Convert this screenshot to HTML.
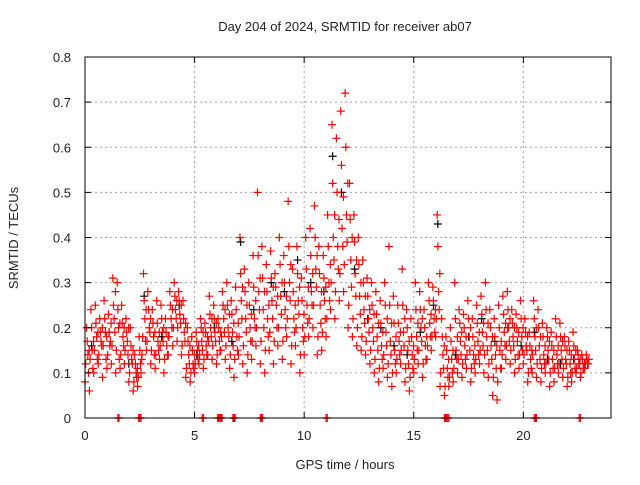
<!DOCTYPE html>
<html><head><meta charset="utf-8"><style>
body{margin:0;background:#fff}
svg text{font-family:"Liberation Sans",sans-serif;font-size:13px;fill:#222}
</style></head><body>
<svg id="chart" width="640" height="480" viewBox="0 0 640 480">
<rect width="640" height="480" fill="#fff"/>
<text x="345" y="31" text-anchor="middle">Day 204 of 2024, SRMTID for receiver ab07</text>
<text transform="translate(18,238) rotate(-90)" text-anchor="middle">SRMTID / TECUs</text>
<text x="345" y="469" text-anchor="middle">GPS time / hours</text>
<g id="grid"></g>
<g id="black"></g>
<g id="red"></g>
<g id="axes"></g>
</svg>
<script>
const xTicks=[0,5,10,15,20];
const yTicks=[0,0.1,0.2,0.3,0.4,0.5,0.6,0.7,0.8];
const yTickLabels=["0","0.1","0.2","0.3","0.4","0.5","0.6","0.7","0.8"];
// rows: [time, low, mid, high]
const redRows=[
[0.0,.08,.14,.20],[0.2,.06,.15,.24],[0.4,.10,.18,.25],[0.6,.12,.17,.22],[0.8,.09,.19,.26],
[1.0,.11,.16,.23],[1.2,.12,.22,.31],[1.4,.10,.20,.30],[1.6,.11,.18,.25],[1.8,.12,.17,.22],
[2.0,.08,.13,.20],[2.2,.06,.10,.14],[2.4,.07,.12,.18],[2.6,.14,.22,.32],[2.8,.15,.20,.28],
[3.0,.12,.18,.24],[3.2,.11,.17,.26],[3.4,.13,.19,.25],[3.6,.10,.16,.22],[3.8,.14,.22,.28],
[4.0,.16,.24,.30],[4.2,.17,.23,.28],[4.4,.14,.19,.26],[4.6,.09,.14,.20],[4.8,.08,.12,.18],
[5.0,.10,.15,.19],[5.2,.12,.17,.22],[5.4,.11,.16,.21],[5.6,.14,.20,.27],[5.8,.13,.19,.25],
[6.0,.12,.17,.22],[6.2,.15,.22,.28],[6.4,.13,.20,.30],[6.6,.11,.19,.26],[6.8,.09,.18,.29],
[7.0,.14,.26,.40],[7.2,.12,.22,.33],[7.4,.10,.20,.30],[7.6,.13,.22,.36],[7.8,.16,.28,.50],
[8.0,.12,.24,.38],[8.2,.10,.22,.34],[8.4,.15,.26,.37],[8.6,.12,.25,.32],[8.8,.16,.27,.40],
[9.0,.13,.24,.36],[9.2,.18,.30,.48],[9.4,.12,.22,.33],[9.6,.16,.26,.38],[9.8,.10,.20,.31],
[10.0,.14,.25,.40],[10.2,.18,.28,.42],[10.4,.20,.33,.47],[10.6,.14,.25,.38],[10.8,.15,.26,.36],
[11.0,.18,.30,.45],[11.2,.24,.40,.65],[11.4,.22,.38,.62],[11.6,.26,.42,.68],[11.8,.28,.45,.72],
[12.0,.20,.35,.52],[12.2,.18,.32,.45],[12.4,.16,.27,.40],[12.6,.15,.24,.35],[12.8,.14,.22,.31],
[13.0,.12,.20,.30],[13.2,.10,.18,.28],[13.4,.08,.16,.26],[13.6,.11,.19,.30],[13.8,.09,.17,.38],
[14.0,.07,.15,.27],[14.2,.10,.17,.25],[14.4,.12,.19,.33],[14.6,.08,.15,.24],[14.8,.06,.14,.22],
[15.0,.10,.18,.30],[15.2,.12,.20,.28],[15.4,.09,.16,.24],[15.6,.13,.21,.30],[15.8,.15,.22,.29],
[16.0,.18,.28,.45],[16.2,.07,.14,.22],[16.4,.05,.11,.18],[16.6,.07,.13,.20],[16.8,.08,.15,.30],
[17.0,.10,.17,.24],[17.2,.09,.16,.23],[17.4,.11,.18,.26],[17.6,.08,.14,.22],[17.8,.10,.17,.25],
[18.0,.12,.19,.27],[18.2,.10,.18,.30],[18.4,.09,.16,.24],[18.6,.05,.14,.22],[18.8,.04,.15,.25],
[19.0,.11,.19,.27],[19.2,.13,.20,.28],[19.4,.12,.18,.24],[19.6,.10,.17,.23],[19.8,.11,.18,.26],
[20.0,.12,.16,.22],[20.2,.08,.13,.19],[20.4,.10,.18,.26],[20.6,.09,.16,.24],[20.8,.08,.14,.21],
[21.0,.10,.15,.20],[21.2,.07,.13,.19],[21.4,.08,.14,.22],[21.6,.10,.15,.21],[21.8,.09,.13,.18],
[22.0,.07,.12,.17],[22.2,.08,.13,.19],[22.4,.10,.12,.15],[22.6,.09,.11,.14],[22.8,.11,.12,.14]
];
// extra rows: [time, v1, v2, v3, v4]
const redExtra=[
[0.0,.12,.17,.10,.15],[0.2,.13,.20,.11,.17],[0.4,.15,.21,.13,.19],[0.6,.14,.19,.16,.20],[0.8,.16,.22,.13,.18],
[1.0,.14,.19,.17,.21],[1.2,.16,.25,.19,.28],[1.4,.15,.24,.13,.21],[1.6,.14,.21,.16,.20],[1.8,.15,.19,.14,.20],
[2.0,.10,.16,.12,.15],[2.2,.08,.12,.09,.11],[2.4,.09,.15,.10,.13],[2.6,.18,.26,.17,.24],[2.8,.17,.24,.19,.22],
[3.0,.15,.21,.14,.19],[3.2,.14,.21,.15,.19],[3.4,.16,.22,.17,.20],[3.6,.13,.19,.14,.18],[3.8,.18,.25,.20,.24],
[4.0,.20,.27,.22,.26],[4.2,.20,.26,.21,.25],[4.4,.16,.22,.17,.21],[4.6,.11,.17,.12,.16],[4.8,.10,.15,.11,.14],
[5.0,.12,.17,.13,.16],[5.2,.14,.20,.15,.19],[5.4,.13,.19,.14,.18],[5.6,.17,.23,.18,.22],[5.8,.16,.22,.17,.21],
[6.0,.14,.20,.15,.19],[6.2,.18,.25,.19,.24],[6.4,.16,.25,.18,.23],[6.6,.14,.23,.16,.21],[6.8,.13,.24,.15,.21],
[7.0,.18,.32,.22,.29],[7.2,.16,.28,.19,.25],[7.4,.14,.25,.17,.23],[7.6,.17,.29,.20,.26],[7.8,.20,.36,.24,.31],
[8.0,.17,.31,.20,.28],[8.2,.15,.28,.18,.25],[8.4,.19,.31,.22,.29],[8.6,.17,.29,.20,.27],[8.8,.20,.34,.23,.30],
[9.0,.17,.30,.20,.27],[9.2,.22,.38,.26,.34],[9.4,.16,.28,.19,.25],[9.6,.20,.32,.23,.29],[9.8,.14,.26,.17,.23],
[10.0,.18,.33,.21,.29],[10.2,.22,.36,.25,.32],[10.4,.25,.40,.29,.36],[10.6,.18,.32,.21,.28],[10.8,.19,.31,.22,.29],
[11.0,.22,.38,.26,.34],[11.2,.30,.52,.35,.45],[11.4,.28,.50,.33,.44],[11.6,.32,.56,.38,.49],[11.8,.34,.60,.39,.52],
[12.0,.25,.44,.29,.40],[12.2,.22,.39,.27,.35],[12.4,.20,.34,.23,.30],[12.6,.18,.30,.21,.27],[12.8,.17,.27,.19,.24],
[13.0,.15,.25,.17,.23],[13.2,.13,.23,.15,.21],[13.4,.11,.21,.13,.19],[13.6,.14,.25,.16,.22],[13.8,.12,.25,.14,.21],
[14.0,.10,.21,.12,.18],[14.2,.13,.21,.14,.19],[14.4,.15,.25,.16,.22],[14.6,.11,.20,.12,.17],[14.8,.09,.18,.11,.16],
[15.0,.13,.24,.15,.21],[15.2,.15,.24,.17,.22],[15.4,.12,.20,.13,.18],[15.6,.16,.26,.18,.23],[15.8,.18,.26,.19,.24],
[16.0,.22,.38,.24,.32],[16.2,.10,.18,.11,.16],[16.4,.07,.15,.09,.13],[16.6,.09,.17,.10,.15],[16.8,.11,.22,.13,.18],
[17.0,.13,.21,.14,.19],[17.2,.12,.20,.13,.18],[17.4,.14,.22,.15,.20],[17.6,.11,.18,.12,.16],[17.8,.13,.21,.14,.19],
[18.0,.15,.23,.16,.21],[18.2,.14,.24,.15,.21],[18.4,.12,.20,.13,.18],[18.6,.09,.18,.11,.16],[18.8,.08,.20,.11,.17],
[19.0,.14,.23,.16,.21],[19.2,.16,.24,.17,.22],[19.4,.15,.21,.16,.20],[19.6,.13,.20,.14,.19],[19.8,.14,.22,.15,.20],
[20.0,.14,.19,.15,.18],[20.2,.10,.16,.11,.15],[20.4,.14,.22,.15,.20],[20.6,.12,.20,.13,.18],[20.8,.11,.18,.12,.16],
[21.0,.12,.18,.13,.17],[21.2,.10,.16,.11,.15],[21.4,.11,.18,.12,.16],[21.6,.12,.18,.13,.17],[21.8,.11,.16,.12,.15],
[22.0,.09,.15,.10,.14],[22.2,.10,.16,.11,.15],[22.4,.11,.14,.12,.13],[22.6,.10,.13,.11,.12],[22.8,.12,.13,.12,.13]
];
const redZeroTimes=[1.5,1.55,2.45,2.5,2.55,5.35,5.4,6.05,6.1,6.15,6.2,6.25,6.75,6.8,6.85,8.0,8.05,8.1,11.0,11.05,16.4,16.45,16.5,16.55,16.6,20.5,20.55,20.6,22.55,22.6];
const blackTimes=[0.3,1.1,2.0,2.7,3.5,4.3,5.1,5.9,6.7,7.1,7.7,8.5,9.1,9.7,10.3,10.9,11.3,11.7,12.3,12.9,13.5,14.1,14.7,15.3,15.9,16.1,16.9,17.5,18.1,18.7,19.3,19.9,20.5,21.1,21.7,22.3];
const blackVals=[.16,.19,.12,.27,.18,.25,.14,.2,.17,.39,.24,.3,.28,.35,.3,.28,.58,.5,.33,.22,.2,.16,.14,.19,.25,.43,.14,.18,.22,.17,.2,.16,.19,.13,.12,.13];

const X0=85,X1=611,Y0=418,Y1=57;
const xs=t=>X0+t*(X1-X0)/24;
const ys=v=>Y0-v*(Y0-Y1)/0.8;
const NS="http://www.w3.org/2000/svg";
function mk(tag,attrs,parent){const e=document.createElementNS(NS,tag);for(const k in attrs)e.setAttribute(k,attrs[k]);parent.appendChild(e);return e;}
const grid=document.getElementById('grid'),axes=document.getElementById('axes');
yTicks.forEach((v,i)=>{
 const y=ys(v);
 if(i>0&&i<yTicks.length-1){const g=mk('line',{x1:X0,x2:X1,y1:y,y2:y,stroke:'#a0a0a0','stroke-dasharray':'2,3'},grid);
 
 }
 mk('line',{x1:X0,x2:X0+6,y1:y,y2:y,stroke:'#000'},axes);
 mk('line',{x1:X1,x2:X1-6,y1:y,y2:y,stroke:'#000'},axes);
 const t=mk('text',{x:X0-14,y:y+5,'text-anchor':'end'},axes);t.textContent=yTickLabels[i];
 
 
});
xTicks.forEach(v=>{
 const x=xs(v);
 if(v>0){const g=mk('line',{x1:x,x2:x,y1:Y0,y2:Y1,stroke:'#a0a0a0','stroke-dasharray':'2,3'},grid);
 
 }
 mk('line',{x1:x,x2:x,y1:Y0,y2:Y0-6,stroke:'#000'},axes);
 mk('line',{x1:x,x2:x,y1:Y1,y2:Y1+6,stroke:'#000'},axes);
 const t=mk('text',{x:x,y:Y0+22,'text-anchor':'middle'},axes);t.textContent=String(v);
 
 
});
mk('rect',{x:X0,y:Y1,width:X1-X0,height:Y0-Y1,fill:'none',stroke:'#000'},axes);
function plus(t,v,col,g){
 const x=xs(t),y=ys(v);
 const p=mk('path',{d:`M${x-4},${y}h8M${x},${y-4}v8`,stroke:col,'stroke-width':1.2,fill:'none'},g);
 
 
}
const red=document.getElementById('red'),black=document.getElementById('black');
blackTimes.forEach((t,i)=>plus(t,blackVals[i],'#000',black));
redRows.forEach(r=>{plus(r[0],r[1],'#f00',red);plus(r[0]+0.07,r[3],'#f00',red);plus(r[0]+0.13,r[2],'#f00',red);});
redExtra.forEach(r=>{plus(r[0]+0.03,r[1],'#f00',red);plus(r[0]+0.1,r[2],'#f00',red);plus(r[0]+0.16,r[3],'#f00',red);plus(r[0]+0.19,r[4],'#f00',red);});
redZeroTimes.forEach(t=>plus(t,0,'#f00',red));
</script>
</body></html>
